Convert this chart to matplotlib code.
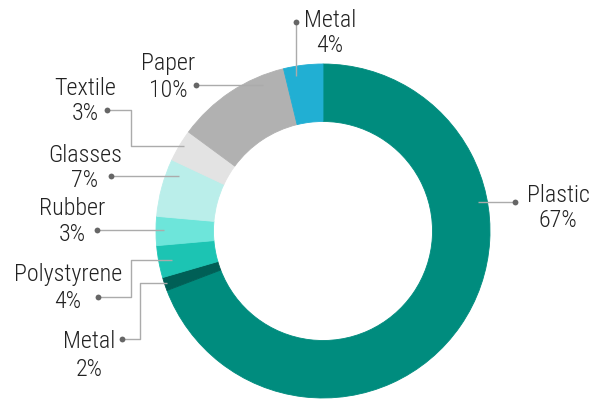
import matplotlib
matplotlib.use('Agg')
import matplotlib.pyplot as plt

# ---- data ----
categories = ['Plastic', 'Metal', 'Polystyrene', 'Rubber', 'Glasses', 'Textile', 'Paper', 'Metal']
pct_labels = [67, 2, 4, 3, 7, 3, 10, 4]
# wedge sizes as drawn in the reference (percent of the ring)
shares = [69.2, 1.3, 3.1, 2.8, 5.6, 3.1, 11.1, 3.8]
colors = ['#008C7E', '#005F56', '#1CC4B3', '#6DE5DA', '#BAEEEA', '#E3E3E3', '#B1B1B1', '#21AFD3']

# ---- layout ----
W, H = 598, 399
fig = plt.figure(figsize=(W / 100, H / 100), dpi=100)
ax = fig.add_axes([0, 0, 1, 1])


def Y(y):
    return H - y


cx, cy = 323, 231
r_out, r_in = 167, 109.5

wedges, _ = ax.pie(shares, colors=colors, startangle=90, counterclock=False,
                   radius=r_out, center=(cx, Y(cy)),
                   wedgeprops=dict(width=r_out - r_in, linewidth=0.6))
for w in wedges:
    w.set_edgecolor(w.get_facecolor())

ax.set_xlim(0, W)
ax.set_ylim(0, H)
ax.set_aspect('equal')
ax.axis('off')

# label layout: (text centre x, baseline line1, baseline line2, leader path)
layout = [
    (558, 202, 227, [(515, 202), (478, 202)]),
    (89, 348, 376, [(122, 339), (140, 339), (140, 283), (167, 283)]),
    (68, 281, 308, [(98, 297), (131, 297), (131, 260), (172, 260)]),
    (72, 215, 241, [(97, 230), (164, 230)]),
    (85, 162, 187, [(111, 176), (179, 176)]),
    (85, 95, 120, [(107, 110), (131, 110), (131, 146), (184, 146)]),
    (168, 70, 97, [(196, 85), (263, 85)]),
    (330, 27, 52, [(296, 22), (296, 76)]),
]

fam = ['Roboto Condensed', 'Liberation Sans Narrow', 'Roboto', 'DejaVu Sans']
fs = 17.3
for name, pct, (tx, b1, b2, path) in zip(categories, pct_labels, layout):
    xs = [p[0] for p in path]
    ys = [Y(p[1]) for p in path]
    ax.plot(xs, ys, color='#ABABAB', lw=1.0, zorder=5, solid_capstyle='butt')
    ax.plot(xs[0], ys[0], 'o', color='#666666', markersize=4.2, zorder=6,
            markeredgewidth=0)
    ax.text(tx, Y(b1), name, ha='center', va='baseline', fontsize=fs,
            family=fam, fontweight='light', color='#222222')
    ax.text(tx, Y(b2), f'{pct}%', ha='center', va='baseline', fontsize=fs,
            family=fam, fontweight='light', color='#222222')

fig.savefig('out.png', dpi=100)
